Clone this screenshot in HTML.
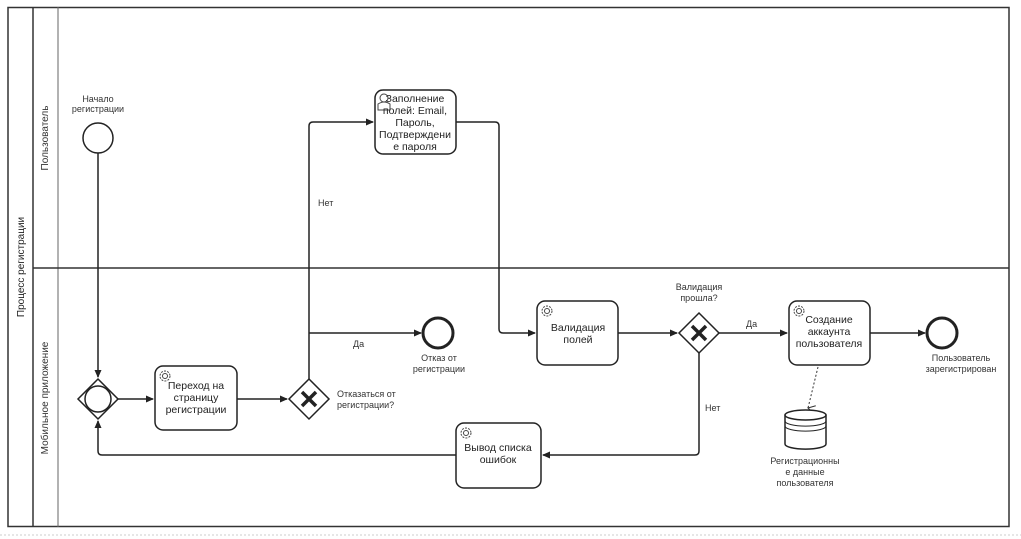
<!DOCTYPE html>
<html><head><meta charset="utf-8"><style>
body{margin:0;background:#fff}
svg{display:block}
text{font-family:"Liberation Sans",sans-serif;font-size:9px;fill:#333}
.t{font-size:10.5px;fill:#222}
</style></head><body>
<svg width="1021" height="539" viewBox="0 0 1021 539" xmlns="http://www.w3.org/2000/svg">
<defs><marker id="a" markerWidth="8" markerHeight="8" refX="7" refY="4" orient="auto" markerUnits="userSpaceOnUse"><path d="M0,0.5 L8,4 L0,7.5z" fill="#222"/></marker>
<marker id="o" markerWidth="10" markerHeight="10" refX="5" refY="8" orient="auto" markerUnits="userSpaceOnUse"><path d="M1,1 L5,8 L9,1" fill="none" stroke="#333"/></marker></defs>
<line x1="0" y1="535" x2="1021" y2="535" stroke="#ccc" stroke-dasharray="2,2"/>
<rect x="8" y="7.5" width="1001" height="519" fill="none" stroke="#333" stroke-width="1.5"/>
<line x1="33" y1="7" x2="33" y2="527" stroke="#333" stroke-width="1.5"/>
<line x1="58" y1="7" x2="58" y2="527" stroke="#666"/>
<line x1="33" y1="268" x2="1009" y2="268" stroke="#333" stroke-width="1.5"/>
<text transform="translate(24,267) rotate(-90)" text-anchor="middle" class="t" style="font-size:10px">Процесс регистрации</text>
<text transform="translate(48,138) rotate(-90)" text-anchor="middle" style="font-size:10px">Пользователь</text>
<text transform="translate(48,398) rotate(-90)" text-anchor="middle" style="font-size:10px">Мобильное приложение</text>
<g fill="none" stroke="#222" stroke-width="1.5">
<path d="M98,153 V377" marker-end="url(#a)"/>
<path d="M118,399 H153" marker-end="url(#a)"/>
<path d="M237,399 H287" marker-end="url(#a)"/>
<path d="M309,379 V126 Q309,122 313,122 H373" marker-end="url(#a)"/>
<path d="M309,333 H421" marker-end="url(#a)"/>
<path d="M456,122 H495 Q499,122 499,126 V329 Q499,333 503,333 H535" marker-end="url(#a)"/>
<path d="M618,333 H677" marker-end="url(#a)"/>
<path d="M719,333 H787" marker-end="url(#a)"/>
<path d="M870,333 H925" marker-end="url(#a)"/>
<path d="M699,353 V451 Q699,455 695,455 H543" marker-end="url(#a)"/>
<path d="M456,455 H102 Q98,455 98,451 V421" marker-end="url(#a)"/>
</g>
<path d="M818,367 L808,408" stroke="#333" stroke-dasharray="2,2" fill="none" marker-end="url(#o)"/>
<circle cx="98" cy="138" r="15" fill="#fff" stroke="#222" stroke-width="1.5"/>
<circle cx="438" cy="333" r="15" fill="#fff" stroke="#222" stroke-width="3"/>
<circle cx="942" cy="333" r="15" fill="#fff" stroke="#222" stroke-width="3"/>
<g fill="#fff" stroke="#222" stroke-width="1.5">
<path d="M98,379 L118,399 L98,419 L78,399z"/>
<circle cx="98" cy="399" r="13"/>
<path d="M309,379 L329,399 L309,419 L289,399z"/>
<path d="M699,313 L719,333 L699,353 L679,333z"/>
<rect x="155" y="366" width="82" height="64" rx="8"/>
<rect x="375" y="90" width="81" height="64" rx="8"/>
<rect x="537" y="301" width="81" height="64" rx="8"/>
<rect x="789" y="301" width="81" height="64" rx="8"/>
<rect x="456" y="423" width="85" height="65" rx="8"/>
<path d="M785,415 V444 A20,5 0 0 0 826,444 V415"/>
<ellipse cx="805.5" cy="415" rx="20.5" ry="5"/>
</g>
<path d="M785,421 A20,5 0 0 0 826,421 M785,426 A20,5 0 0 0 826,426" fill="none" stroke="#222"/>
<g stroke="#222" stroke-width="3.5"><path d="M302,392 L316,406 M316,392 L302,406"/><path d="M692,326 L706,340 M706,326 L692,340"/></g>
<g fill="none" stroke="#444" stroke-width="1">
<circle cx="165" cy="376" r="5" stroke-dasharray="2,1.2"/><circle cx="165" cy="376" r="2.5"/>
<circle cx="547" cy="311" r="5" stroke-dasharray="2,1.2"/><circle cx="547" cy="311" r="2.5"/>
<circle cx="799" cy="311" r="5" stroke-dasharray="2,1.2"/><circle cx="799" cy="311" r="2.5"/>
<circle cx="466" cy="433" r="5" stroke-dasharray="2,1.2"/><circle cx="466" cy="433" r="2.5"/>
<circle cx="384" cy="98" r="4"/><path d="M378,110 V104 Q384,100 390,104 V110z"/>
</g>
<g text-anchor="middle">
<text x="98" y="102">Начало</text><text x="98" y="112">регистрации</text>
<text class="t" x="196" y="389">Переход на</text><text class="t" x="196" y="401">страницу</text><text class="t" x="196" y="413">регистрации</text>
<text class="t" x="415" y="102">Заполнение</text><text class="t" x="415" y="114">полей: Email,</text><text class="t" x="415" y="126">Пароль,</text><text class="t" x="415" y="138">Подтверждени</text><text class="t" x="415" y="150">е пароля</text>
<text class="t" x="578" y="331">Валидация</text><text class="t" x="578" y="343">полей</text>
<text class="t" x="829" y="323">Создание</text><text class="t" x="829" y="335">аккаунта</text><text class="t" x="829" y="347">пользователя</text>
<text class="t" x="498" y="451">Вывод списка</text><text class="t" x="498" y="463">ошибок</text>
<text x="439" y="361">Отказ от</text><text x="439" y="372">регистрации</text>
<text x="699" y="290">Валидация</text><text x="699" y="301">прошла?</text>
<text x="961" y="361">Пользователь</text><text x="961" y="372">зарегистрирован</text>
<text x="805" y="464">Регистрационны</text><text x="805" y="475">е данные</text><text x="805" y="486">пользователя</text>
</g>
<text x="337" y="397">Отказаться от</text><text x="337" y="408">регистрации?</text>
<text x="318" y="206">Нет</text>
<text x="353" y="347">Да</text>
<text x="746" y="327">Да</text>
<text x="705" y="411">Нет</text>
</svg>
</body></html>
